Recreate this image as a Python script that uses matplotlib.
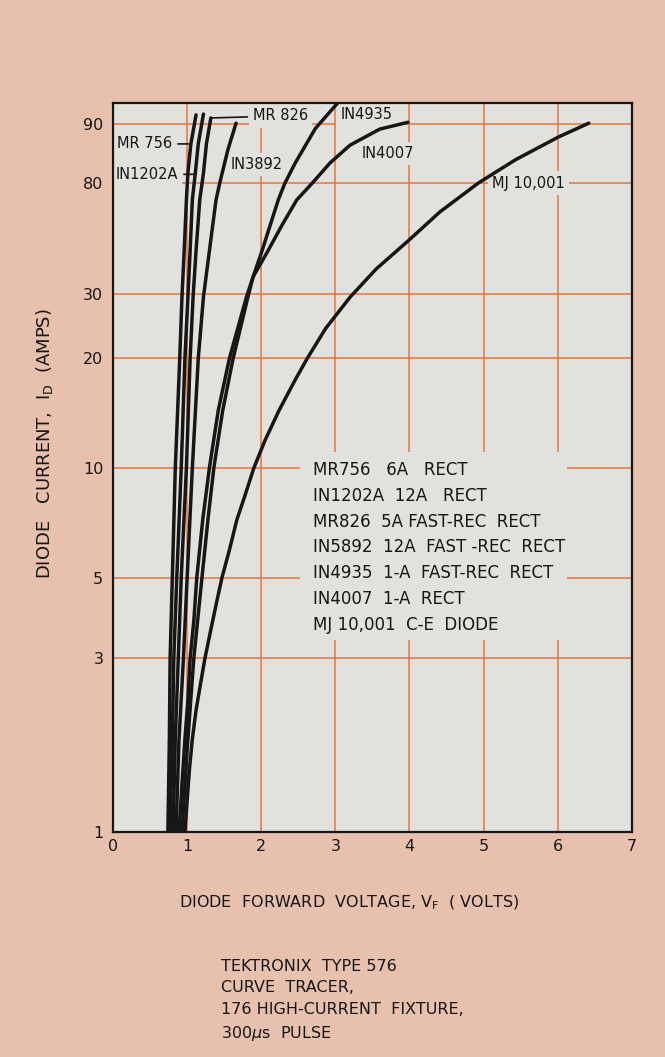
import matplotlib
matplotlib.use('Agg')
import matplotlib.pyplot as plt
import numpy as np
from matplotlib.patches import Rectangle
from matplotlib.ticker import NullLocator

# forward voltage (V) / current (A)
mr756_v = [0.74, 0.76, 0.77, 0.80, 0.84, 0.90, 0.93, 0.96, 0.99, 1.01, 1.05, 1.12]
mr756_a = [1, 1.8, 3, 5, 10, 20, 29.5, 44, 69, 81.6, 86.5, 94.2]
in1202a_v = [0.77, 0.80, 0.82, 0.86, 0.92, 0.97, 1.01, 1.04, 1.07, 1.11, 1.15, 1.22]
in1202a_a = [1, 1.8, 3, 5, 10, 20, 29.5, 44, 69, 81.6, 86.5, 94.6]
mr826_v = [0.81, 0.84, 0.88, 0.92, 0.99, 1.04, 1.08, 1.12, 1.17, 1.22, 1.26, 1.32]
mr826_a = [1, 1.8, 3, 5, 10, 20, 29.5, 44, 69, 81.6, 86.5, 92.8]
in3892_v = [0.85, 0.89, 0.95, 1.00, 1.07, 1.15, 1.22, 1.30, 1.39, 1.44, 1.55, 1.66]
in3892_a = [1, 1.8, 3, 5, 10, 20, 29.5, 44, 69, 80, 85.5, 90.4]
in4935_v = [0.93, 1.01, 1.09, 1.20, 1.28, 1.36, 1.48, 1.62, 1.82, 1.89, 2.01, 2.23, 2.32,
            2.46, 2.73, 3.02, 3.05]
in4935_a = [1, 1.8, 3, 5, 7.2, 10, 14.4, 20, 29.5, 35, 44, 69, 80,
            83.3, 89.2, 99.5, 101]
in4007_v = [0.89, 0.93, 0.97, 1.01, 1.04, 1.09, 1.13, 1.21, 1.30, 1.42, 1.57, 1.80, 1.89,
            2.09, 2.28, 2.48, 2.69, 2.93, 3.20, 3.60, 3.98]
in4007_a = [1, 1.35, 1.8, 2.3, 3, 3.8, 5, 7.2, 10, 14.4, 20, 29.5, 35,
            44, 55.2, 69, 80, 83.3, 86.3, 89.1, 90.8]
mj_v = [0.97, 1.00, 1.03, 1.07, 1.12, 1.19, 1.24, 1.32, 1.40, 1.47, 1.57, 1.67, 1.78,
        1.90, 2.05, 2.24, 2.46, 2.62, 2.87, 3.20, 3.55, 3.98, 4.41, 4.93, 5.43, 6.01, 6.42]
mj_a = [1, 1.22, 1.48, 1.8, 2.16, 2.62, 3, 3.6, 4.3, 5, 5.95, 7.2, 8.4,
        10, 11.9, 14.4, 17.5, 20, 24.2, 29.5, 37.5, 48, 62, 80, 83.8, 87.7, 90.4]

x_ticks = [0, 1, 2, 3, 4, 5, 6, 7]
y_ticks = [1, 3, 5, 10, 20, 30, 80, 90]

legend_lines = ["MR756   6A   RECT",
                "IN1202A  12A   RECT",
                "MR826  5A FAST-REC  RECT",
                "IN5892  12A  FAST -REC  RECT",
                "IN4935  1-A  FAST-REC  RECT",
                "IN4007  1-A  RECT",
                "MJ 10,001  C-E  DIODE"]

# the printed current axis: log below 30 A, squeezed above it
scale_log = np.log10([1e-3, 1, 30, 80, 90, 100, 1e5])
scale_pos = np.array([-3, 0, 1.477, 1.783, 1.945, 2.003, 5.003])

def fwd(a):
    a = np.clip(np.asarray(a, dtype=float), 1e-3, 1e5)
    return np.interp(np.log10(a), scale_log, scale_pos)

def inv(p):
    return 10 ** np.interp(np.asarray(p, dtype=float), scale_pos, scale_log)

page = '#e7c1ad'
paper = '#e3e1de'
grid_c = '#e0783f'
ink = '#161616'

plt.rcParams['font.family'] = ['DejaVu Sans']

fig = plt.figure(figsize=(6.65, 10.57), dpi=100, facecolor=page)
ax = fig.add_axes([0.170, 0.2129, 0.780, 0.6897])
ax.set_facecolor(paper)
ax.set_yscale('function', functions=(fwd, inv))
ax.set_xlim(0, 7)
ax.set_ylim(1, 100)
ax.set_xticks(x_ticks)
ax.set_xticklabels([str(t) for t in x_ticks])
ax.set_yticks(y_ticks)
ax.set_yticklabels([str(t) for t in y_ticks])
ax.yaxis.set_minor_locator(NullLocator())
ax.tick_params(length=0, labelsize=11.5, colors=ink)
ax.tick_params(axis='y', pad=7)
ax.tick_params(axis='x', pad=5)
ax.set_axisbelow(True)
ax.grid(True, color=grid_c, lw=1.1)
for s in ax.spines.values():
    s.set_color(ink)
    s.set_linewidth(1.6)
    s.set_zorder(6)

for v, a in [(mr756_v, mr756_a), (in1202a_v, in1202a_a), (mr826_v, mr826_a),
             (in3892_v, in3892_a), (in4935_v, in4935_a), (in4007_v, in4007_a),
             (mj_v, mj_a)]:
    ax.plot(v, a, color=ink, lw=2.5, solid_capstyle='round', solid_joinstyle='round', zorder=4)

mask = dict(fc=paper, ec='none', pad=3)
lbl = dict(fontsize=10.5, color=ink, va='center', bbox=mask, zorder=3)
lead = dict(arrowstyle='-', color=ink, lw=1.2, shrinkA=1, shrinkB=0)

ax.annotate('MR 756', xy=(1.02, 86.5), xytext=(0.80, 86.5), ha='right', arrowprops=lead, **lbl)
ax.annotate('IN1202A', xy=(1.10, 81.4), xytext=(0.88, 81.4), ha='right', arrowprops=lead, **lbl)
ax.annotate('MR 826', xy=(1.33, 92.8), xytext=(1.89, 93.7), ha='left', arrowprops=lead, **lbl)
ax.text(1.58, 83, 'IN3892', ha='left', **lbl)
ax.text(3.07, 94.2, 'IN4935', ha='left', **lbl)
ax.text(3.36, 84.9, 'IN4007', ha='left', **lbl)
ax.text(5.12, 80, 'MJ 10,001', ha='left', **lbl)

# block of part descriptions, grid hidden behind it
ax.add_patch(Rectangle((0.360, 0.263), 0.515, 0.258, transform=ax.transAxes,
                       fc=paper, ec='none', zorder=2))
for i, line in enumerate(legend_lines):
    ax.text(0.385, 0.4966 - i * 0.0354, line, transform=ax.transAxes,
            fontsize=12, color=ink, va='center', ha='left', zorder=3)

fig.text(45 / 665, 1 - 444 / 1057, r'DIODE   CURRENT,  I$_\mathregular{D}$  (AMPS)',
         rotation=90, ha='center', va='center', fontsize=13, color=ink)
fig.text(349 / 665, 1 - 903 / 1057, r'DIODE  FORWARD  VOLTAGE, V$_\mathregular{F}$  ( VOLTS)',
         ha='center', va='center', fontsize=11.5, color=ink)
fig.text(221 / 665, 1 - 1001 / 1057,
         'TEKTRONIX  TYPE 576\nCURVE  TRACER,\n176 HIGH-CURRENT  FIXTURE,\n300$\\mu$s  PULSE',
         ha='left', va='center', fontsize=11.5, color=ink, linespacing=1.52)

fig.savefig('out.png', dpi=100, facecolor=page)
